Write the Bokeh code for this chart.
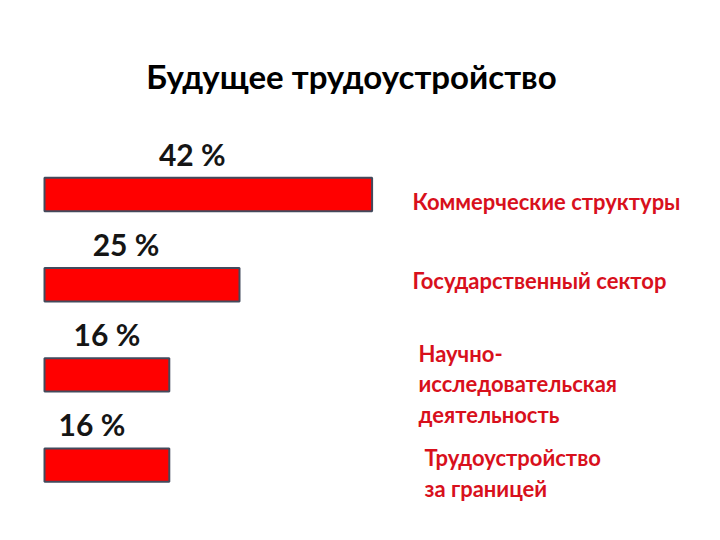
from bokeh.plotting import figure
from bokeh.models import Range1d, ColumnDataSource
from bokeh.core.properties import value
from bokeh.embed import file_html
from bokeh.resources import INLINE

# ---- data ----
title = "Будущее трудоустройство"
categories = [
    "Коммерческие структуры",
    "Государственный сектор",
    "Научно-\nисследовательская\nдеятельность",
    "Трудоустройство\nза границей",
]
shares = [42, 25, 16, 16]
share_labels = [f"{v} %" for v in shares]

# ---- layout (pixels inside the frame) ----
W, H = 704, 524
px_per_unit_x = 7.8
x0_px = 44
row_top_px = 194
row_step_px = 90.2
bar_height = 0.37
label_gap_px = 24
pct_dx = [-16, -16, 0, -15]
cat_x_px = 412
cat_dx = [0, 0, 6, 12]
cat_dy = [7, -4, 9, 8]
title_center_px = (351, 75)

x_start = -x0_px / px_per_unit_x
x_end = x_start + W / px_per_unit_x
y_end = -row_top_px / row_step_px
y_start = y_end + H / row_step_px

idx = list(range(len(categories)))
src = ColumnDataSource(dict(
    idx=idx,
    share=shares,
    half=[v / 2 for v in shares],
    pct=share_labels,
    pct_y=[i - bar_height / 2 - label_gap_px / row_step_px for i in idx],
    pct_dx=pct_dx,
    cat=categories,
    cat_x=[(cat_x_px - x0_px) / px_per_unit_x] * len(idx),
    cat_dx=cat_dx,
    cat_dy=cat_dy,
))

p = figure(width=W, height=H, x_range=Range1d(x_start, x_end),
           y_range=Range1d(y_start, y_end), output_backend="svg",
           toolbar_location=None, min_border=0, x_axis_type=None,
           y_axis_type=None)
p.grid.visible = False
p.outline_line_color = None
p.background_fill_color = "white"

p.hbar(y="idx", left=0, right="share", height=bar_height, source=src,
       fill_color="#ff0000", line_color="#434a5c", line_width=2)

p.text(x="half", y="pct_y", text="pct", source=src, x_offset="pct_dx",
       text_align="center", text_baseline="alphabetic",
       text_font=value("Lato"), text_font_style="bold",
       text_font_size="30px", text_color="#151515")

p.text(x="cat_x", y="idx", text="cat", source=src, x_offset="cat_dx",
       y_offset="cat_dy", text_align="left", text_baseline="middle",
       text_font=value("Lato"), text_font_style="bold",
       text_font_size="22px", text_line_height=1.14, text_color="#d8101c")

p.text(x=[(title_center_px[0] - x0_px) / px_per_unit_x],
       y=[y_end + title_center_px[1] / row_step_px], text=[title],
       text_align="center", text_baseline="middle",
       text_font=value("Lato"), text_font_style="bold",
       text_font_size="33px", text_color="#000000")

open("out.html", "w").write(file_html(p, INLINE))
